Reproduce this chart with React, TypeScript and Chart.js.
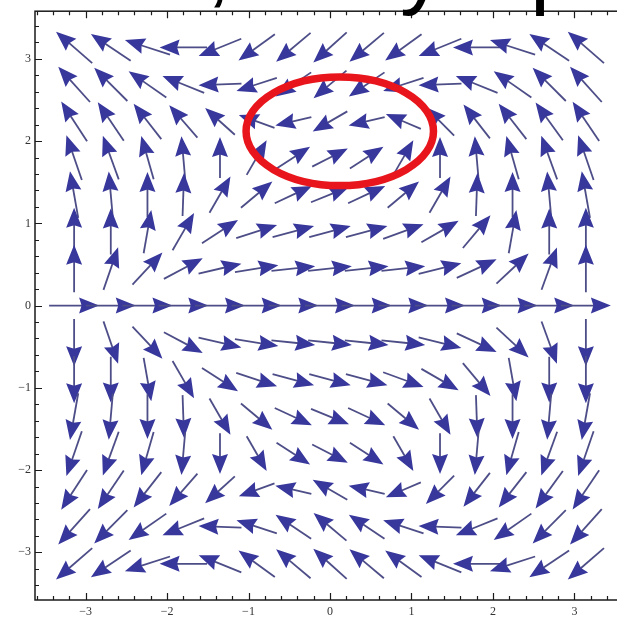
import { useEffect, useRef } from "react";
import { Chart, registerables } from "chart.js";

Chart.register(...registerables);

// Sample grid: 15 x 15 points, spacing pi/7
const xGrid = [-3.14, -2.69, -2.24, -1.8, -1.35, -0.9, -0.45, 0, 0.45, 0.9, 1.35, 1.8, 2.24, 2.69, 3.14];
const yGrid = [3.14, 2.69, 2.24, 1.8, 1.35, 0.9, 0.45, 0, -0.45, -0.9, -1.35, -1.8, -2.24, -2.69, -3.14];

// Arrow directions in degrees (counter-clockwise from +x), one row per y value, top to bottom
const dirY314 = [139, 146, 162, 180, 202, 216, 220, 222, 220, 216, 202, 180, 162, 146, 139];
const dirY269 = [132, 135, 145, 158, 182, 198, 214, 220, 214, 198, 182, 158, 145, 135, 132];
const dirY224 = [123, 124, 128, 131, 138, 160, 193, 210, 193, 157, 135, 128, 128, 126, 124];
const dirY180 = [109, 110, 106, 95, 90, 60, 33, 27, 33, 60, 90, 95, 106, 110, 109];
const dirY135 = [100, 95, 90, 88, 60, 40, 25, 22, 25, 40, 60, 88, 90, 95, 100];
const dirY090 = [90, 90, 80, 60, 33, 18, 15, 15, 15, 20, 30, 50, 80, 90, 90];
const dirY045 = [90, 71, 47, 28, 13, 9, 6, 6, 6, 6, 14, 25, 43, 70, 90];
const dirY000 = [0, 0, 0, 0, 0, 0, 0, 0, 0, 0, 0, 0, 0, 0, 0];
const dirYm045 = [-90, -71, -47, -28, -13, -9, -6, -6, -6, -6, -14, -25, -43, -70, -90];
const dirYm090 = [-90, -90, -80, -60, -33, -18, -15, -15, -15, -20, -30, -50, -80, -90, -90];
const dirYm135 = [-100, -95, -90, -88, -60, -40, -25, -22, -25, -40, -60, -88, -90, -95, -100];
const dirYm180 = [-109, -110, -106, -95, -90, -60, -33, -27, -33, -60, -90, -95, -106, -110, -109];
const dirYm224 = [-123, -124, -128, -131, -138, -160, -193, -210, -193, -157, -135, -128, -128, -126, -124];
const dirYm269 = [-132, -135, -145, -158, -182, -198, -214, -220, -214, -198, -182, -158, -145, -135, -132];
const dirYm314 = [-139, -146, -162, -180, -202, -216, -220, -222, -220, -216, -202, -180, -162, -146, -139];

// Relative arrow magnitudes, same layout
const magY314 = [0.96, 0.96, 0.95, 0.95, 0.92, 0.9, 0.9, 0.9, 0.9, 0.9, 0.92, 0.95, 0.95, 0.96, 0.96];
const magY269 = [0.95, 0.94, 0.92, 0.9, 0.86, 0.85, 0.86, 0.86, 0.86, 0.85, 0.86, 0.9, 0.92, 0.94, 0.95];
const magY224 = [0.95, 0.93, 0.9, 0.86, 0.8, 0.76, 0.74, 0.8, 0.74, 0.76, 0.8, 0.86, 0.9, 0.93, 0.95];
const magY180 = [0.95, 0.93, 0.9, 0.86, 0.82, 0.8, 0.8, 0.8, 0.8, 0.8, 0.82, 0.86, 0.9, 0.93, 0.95];
const magY135 = [0.95, 0.93, 0.9, 0.86, 0.84, 0.82, 0.82, 0.82, 0.82, 0.82, 0.84, 0.86, 0.9, 0.93, 0.95];
const magY090 = [0.95, 0.92, 0.88, 0.86, 0.86, 0.86, 0.86, 0.86, 0.86, 0.86, 0.86, 0.86, 0.88, 0.92, 0.95];
const magY045 = [0.95, 0.9, 0.88, 0.88, 0.88, 0.88, 0.88, 0.88, 0.88, 0.88, 0.88, 0.88, 0.88, 0.9, 0.95];
const magY000 = [1, 1, 1, 1, 1, 1, 1, 1, 1, 1, 1, 1, 1, 1, 1];

const dirRows = [dirY314, dirY269, dirY224, dirY180, dirY135, dirY090, dirY045, dirY000,
  dirYm045, dirYm090, dirYm135, dirYm180, dirYm224, dirYm269, dirYm314];
const magRows = [magY314, magY269, magY224, magY180, magY135, magY090, magY045, magY000,
  magY045, magY090, magY135, magY180, magY224, magY269, magY314];

// Axis ticks
const xTickValues = [-3, -2, -1, 0, 1, 2, 3];
const yTickValues = [-3, -2, -1, 0, 1, 2, 3];

// Highlighted region (centre and half-axes in data units)
const ringCenter = [0.12, 2.12];
const ringRadii = [1.15, 0.66];

const HEAD = "#37379c";
const SHAFT = "#4d4d88";
const ARROW_SCALE = 0.613; // data units for a magnitude of 1

const fmt = (v: number) => (v < 0 ? "\u2212" + Math.abs(v) : String(v));

const arrowField = {
  id: "arrowField",
  afterDatasetsDraw(chart: any) {
    const { ctx, chartArea } = chart;
    const xs = chart.scales.x;
    const ys = chart.scales.y;
    const pts = chart.data.datasets[0].data as any[];
    const unit = xs.getPixelForValue(1) - xs.getPixelForValue(0);
    ctx.save();
    ctx.beginPath();
    ctx.rect(chartArea.left, chartArea.top, chartArea.right - chartArea.left, chartArea.bottom - chartArea.top);
    ctx.clip();
    for (const p of pts) {
      const cx = xs.getPixelForValue(p.x);
      const cy = ys.getPixelForValue(p.y);
      const L = p.m * ARROW_SCALE * unit;
      const ang = (p.a * Math.PI) / 180;
      const ux = Math.cos(ang);
      const uy = -Math.sin(ang);
      const tx = cx - (ux * L) / 2;
      const ty = cy - (uy * L) / 2;
      const hx = cx + (ux * L) / 2;
      const hy = cy + (uy * L) / 2;
      const headLen = 20;
      const headW = 8;
      const bx = hx - ux * headLen;
      const by = hy - uy * headLen;
      ctx.strokeStyle = SHAFT;
      ctx.lineWidth = 1.8;
      ctx.lineCap = "butt";
      ctx.beginPath();
      ctx.moveTo(tx, ty);
      ctx.lineTo(bx + ux * 4, by + uy * 4);
      ctx.stroke();
      ctx.fillStyle = HEAD;
      ctx.beginPath();
      ctx.moveTo(hx, hy);
      ctx.lineTo(bx - uy * headW, by + ux * headW);
      ctx.lineTo(bx + ux * 2.5, by + uy * 2.5);
      ctx.lineTo(bx + uy * headW, by - ux * headW);
      ctx.closePath();
      ctx.fill();
    }
    ctx.restore();

    // highlight ring
    const ex = xs.getPixelForValue(ringCenter[0]);
    const ey = ys.getPixelForValue(ringCenter[1]);
    const rx = Math.abs(xs.getPixelForValue(ringCenter[0] + ringRadii[0]) - ex);
    const ry = Math.abs(ys.getPixelForValue(ringCenter[1] + ringRadii[1]) - ey);
    ctx.save();
    ctx.strokeStyle = "#e8161c";
    ctx.lineWidth = 7.5;
    ctx.beginPath();
    ctx.ellipse(ex, ey, rx, ry, 0, 0, Math.PI * 2);
    ctx.stroke();
    ctx.restore();
  },
  afterDraw(chart: any) {
    const { ctx, chartArea } = chart;
    const xs = chart.scales.x;
    const ys = chart.scales.y;
    const { left, right, top, bottom } = chartArea;
    ctx.save();
    ctx.strokeStyle = "#1a1a1a";
    ctx.lineWidth = 1.5;
    ctx.strokeRect(left, top, right - left, bottom - top);
    ctx.lineWidth = 1.2;
    ctx.beginPath();
    for (let k = -18; k <= 18; k++) {
      const v = k / 5;
      const major = k % 5 === 0;
      const len = major ? 7 : 4;
      if (v > xs.min && v < xs.max) {
        const px = Math.round(xs.getPixelForValue(v)) + 0.5;
        ctx.moveTo(px, bottom);
        ctx.lineTo(px, bottom - len);
        ctx.moveTo(px, top);
        ctx.lineTo(px, top + len);
      }
      if (v > ys.min && v < ys.max) {
        const py = Math.round(ys.getPixelForValue(v)) + 0.5;
        ctx.moveTo(left, py);
        ctx.lineTo(left + len, py);
        ctx.moveTo(right, py);
        ctx.lineTo(right - len, py);
      }
    }
    ctx.stroke();
    ctx.restore();

    // title line above the plot, mostly out of view
    ctx.save();
    ctx.fillStyle = "#000";
    ctx.font = '90px "Liberation Sans", Arial, sans-serif';
    ctx.textBaseline = "alphabetic";
    ctx.fillText(",", 206, -4);
    ctx.fillText("y", 400, -3);
    ctx.fillText("p", 530, -3);
    ctx.restore();
  },
};

export default function App() {
  const ref = useRef<HTMLCanvasElement | null>(null);
  useEffect(() => {
    if (!ref.current) return;
    const points = yGrid.flatMap((yv, j) =>
      xGrid.map((xv, i) => ({ x: xv, y: yv, a: dirRows[j][i], m: magRows[j][i] }))
    );
    const chart = new Chart(ref.current, {
      type: "scatter",
      data: {
        datasets: [
          {
            data: points as any,
            pointRadius: 0,
            pointHoverRadius: 0,
            showLine: false,
          },
        ],
      },
      options: {
        animation: false,
        responsive: false,
        devicePixelRatio: 1,
        events: [],
        layout: { padding: { top: 10, right: 15, left: 0, bottom: 0 } },
        plugins: { legend: { display: false }, tooltip: { enabled: false } },
        scales: {
          x: {
            type: "linear",
            min: -3.62,
            max: 3.62,
            grid: { display: false, drawTicks: false },
            border: { display: false },
            afterBuildTicks: (s: any) => {
              s.ticks = xTickValues.map((v) => ({ value: v }));
            },
            afterFit: (s: any) => {
              s.height = 23;
            },
            ticks: {
              padding: 5,
              maxRotation: 0,
              autoSkip: false,
              color: "#333",
              font: { family: '"Liberation Serif", "Times New Roman", serif', size: 12 },
              callback: (v: any) => fmt(Number(v)),
            },
          },
          y: {
            type: "linear",
            min: -3.58,
            max: 3.58,
            grid: { display: false, drawTicks: false },
            border: { display: false },
            afterBuildTicks: (s: any) => {
              s.ticks = yTickValues.map((v) => ({ value: v }));
            },
            afterFit: (s: any) => {
              s.width = 35;
            },
            ticks: {
              padding: 4,
              autoSkip: false,
              color: "#333",
              font: { family: '"Liberation Serif", "Times New Roman", serif', size: 12 },
              callback: (v: any) => fmt(Number(v)),
            },
          },
        },
      },
      plugins: [arrowField],
    });
    return () => chart.destroy();
  }, []);

  return (
    <div
      style={{
        position: "fixed",
        left: 0,
        top: 0,
        width: 617,
        height: 623,
        overflow: "hidden",
        background: "#fff",
      }}
    >
      <canvas ref={ref} width={640} height={623} style={{ width: 640, height: 623, display: "block" }} />
    </div>
  );
}
